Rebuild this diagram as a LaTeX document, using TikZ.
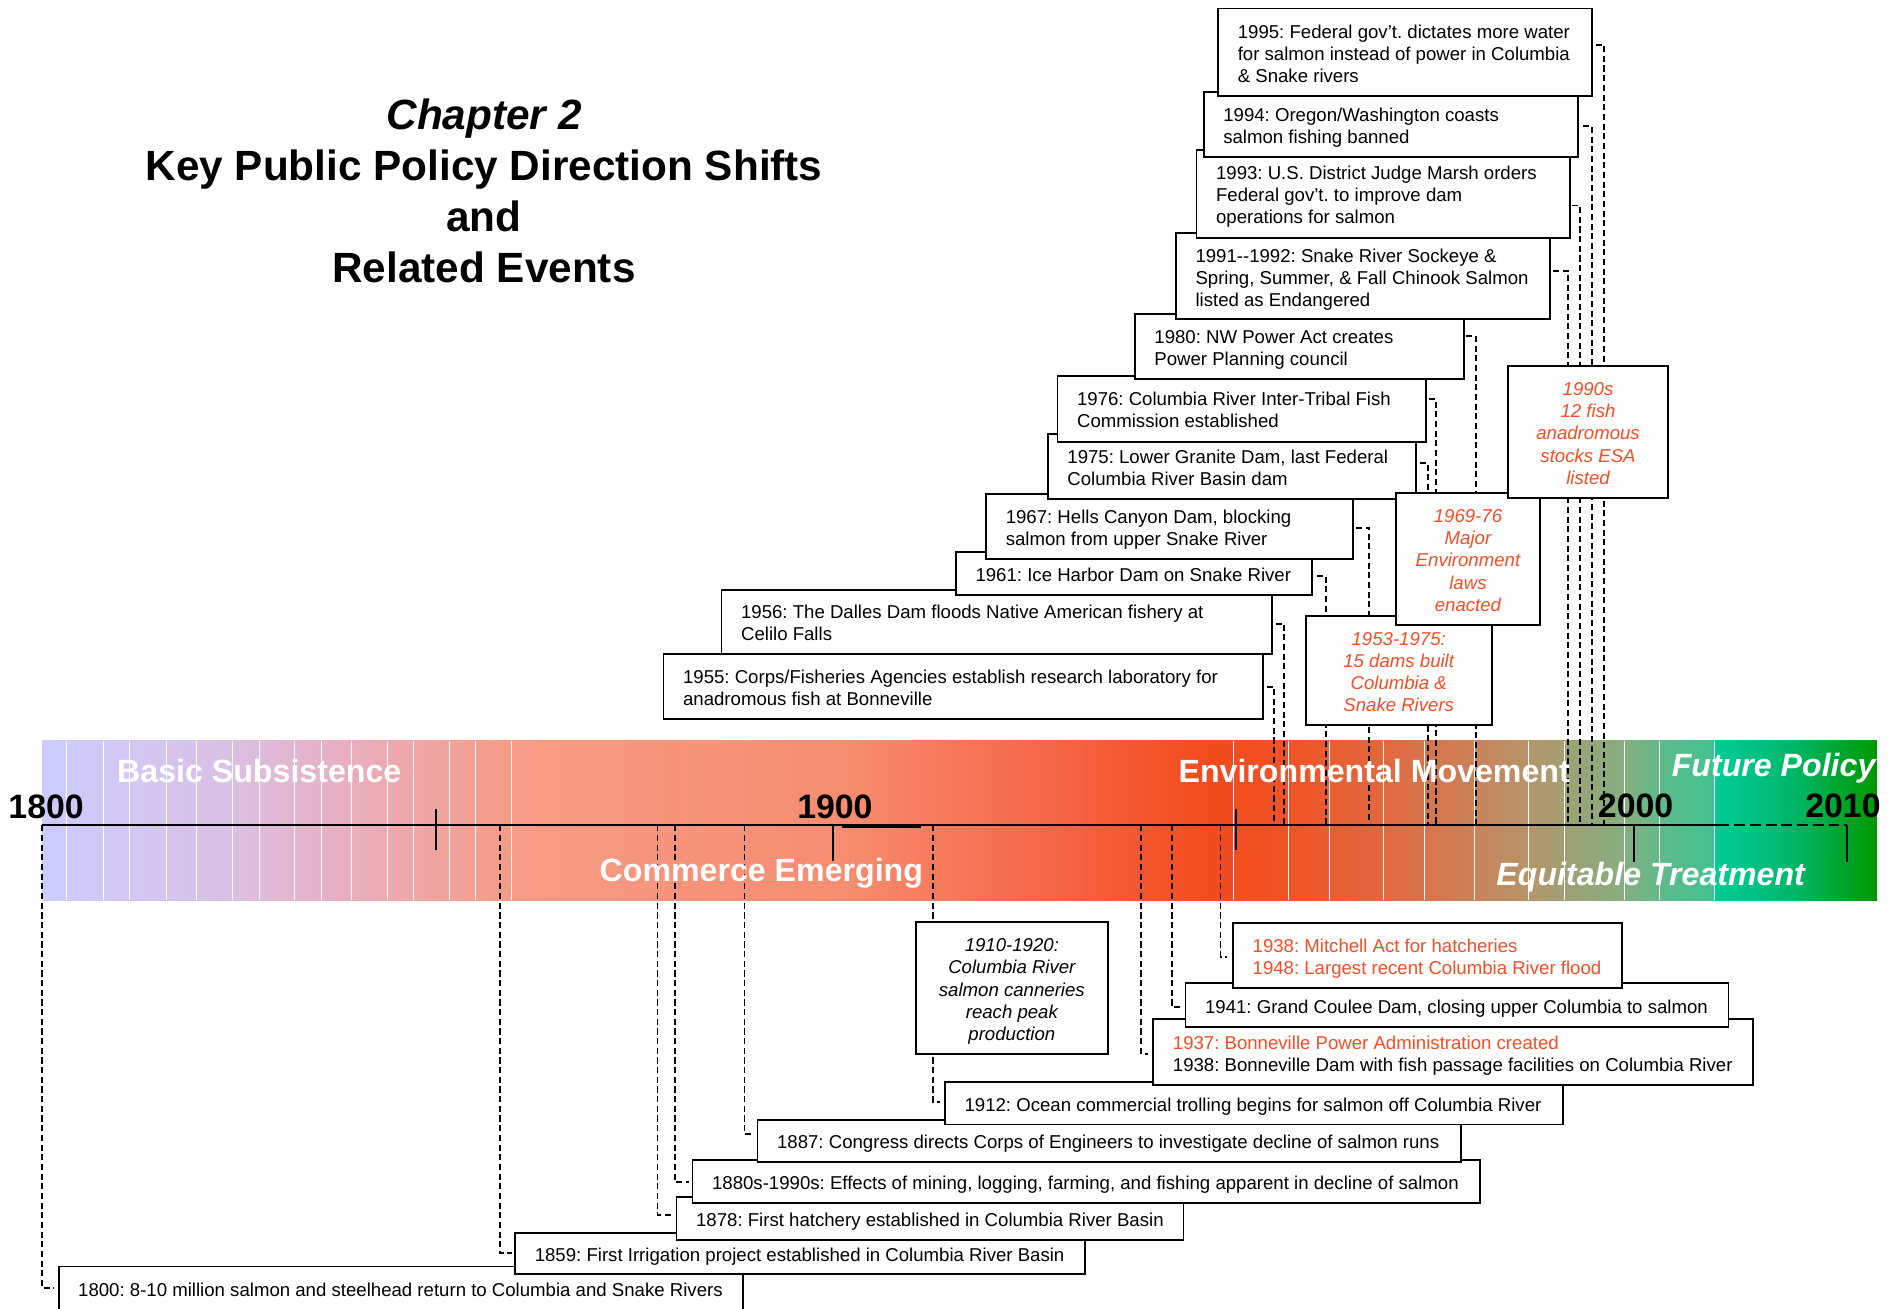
\documentclass[tikz,border=0pt]{standalone}
\usepackage{fontspec}
\setmainfont{Liberation Sans}
\usetikzlibrary{calc}
\pgfdeclarelayer{back}
\pgfdeclarelayer{mid}
\pgfsetlayers{back,mid,main}
\frenchspacing

\definecolor{evred}{RGB}{244,78,38}
% colour stops of the era band
\definecolor{s01}{RGB}{204,204,255}
\definecolor{s02}{RGB}{218,192,228}
\definecolor{s03}{RGB}{234,172,186}
\definecolor{s04}{RGB}{246,156,134}
\definecolor{s05}{RGB}{247,140,112}
\definecolor{s06}{RGB}{246,104,72}
\definecolor{s07}{RGB}{244,74,30}
\definecolor{s08}{RGB}{240,82,38}
\definecolor{s09}{RGB}{234,92,50}
\definecolor{s10}{RGB}{226,104,62}
\definecolor{s11}{RGB}{216,116,76}
\definecolor{s12}{RGB}{202,130,90}
\definecolor{s13}{RGB}{182,148,106}
\definecolor{s14}{RGB}{160,160,116}
\definecolor{s15}{RGB}{134,174,128}
\definecolor{s16}{RGB}{96,186,138}
\definecolor{s17}{RGB}{64,194,146}
\definecolor{s18}{RGB}{0,204,150}
\definecolor{s19}{RGB}{0,184,110}
\definecolor{s20}{RGB}{0,152,0}

\tikzset{
  frame/.style={draw=black, line width=1.5pt, fill=white, inner sep=0pt, outer sep=0pt},
  evtext/.style={inner sep=0pt, font=\fontsize{15.4}{18.3}\selectfont},
  notetext/.style={evtext, font=\fontsize{15.4}{18.3}\selectfont\itshape},
  rednotetext/.style={notetext, text=evred},
  conn/.style={line width=1.55pt, dash pattern=on 5pt off 3pt},
  axisline/.style={line width=1.6pt},
  tickmark/.style={line width=1.5pt},
  yearlbl/.style={inner sep=0pt, font=\fontsize{28}{30}\selectfont\bfseries},
  bandlbl/.style={inner sep=0pt, text=white, font=\fontsize{26.6}{30}\selectfont\bfseries},
  titlelbl/.style={inner sep=0pt, font=\fontsize{35}{42}\selectfont\bfseries},
  strip/.style={white, line width=0.8pt}
}

% event box: name, left, top, right, bottom, lines (left aligned)
\newcommand\evtbox[6]{%
  \pgfmathsetmacro\bxw{#4-#2}%
  \pgfmathsetmacro\bxh{#5-#3}%
  \pgfmathsetmacro\bxx{(#2+#4)/2}%
  \pgfmathsetmacro\bxy{(#3+#5)/2}%
  \node[frame, minimum width=\bxw pt, minimum height=\bxh pt] (#1) at (\bxx,\bxy) {};
  \node[evtext, anchor=west] (#1t) at ($(#1.west)+(16,3)$)
    {\begin{tabular}{@{}l@{}}#6\end{tabular}};}
% note box: style, name, left, top, right, bottom, lines (centred)
\newcommand\ntbox[7]{%
  \pgfmathsetmacro\bxw{#5-#3}%
  \pgfmathsetmacro\bxh{#6-#4}%
  \pgfmathsetmacro\bxx{(#3+#5)/2}%
  \pgfmathsetmacro\bxy{(#4+#6)/2}%
  \node[frame, minimum width=\bxw pt, minimum height=\bxh pt] (#2) at (\bxx,\bxy) {};
  \node[#1] (#2t) at ($(#2.center)+(0,3)$)
    {\begin{tabular}{@{}c@{}}#7\end{tabular}};}

\begin{document}
\begin{tikzpicture}[x=1pt,y=-1pt]
\useasboundingbox (0,0) rectangle (1568,1083);

% ---------- events after 1800 (below the axis), earliest on top ----------
\evtbox{b1800}{48.5}{1048}{614.8}{1085}{1800: 8-10 million salmon and steelhead return to Columbia and Snake Rivers}
\evtbox{b1859}{426.3}{1020}{898}{1054}{1859: First Irrigation project established in Columbia River Basin}
\evtbox{b1878}{559.8}{990.2}{979.3}{1026}{1878: First hatchery established in Columbia River Basin}
\evtbox{b1880}{573}{960}{1224.7}{995.7}{1880s-1990s: Effects of mining, logging, farming, and fishing apparent in decline of salmon}
\evtbox{b1887}{626.8}{926.8}{1209}{961.3}{1887: Congress directs Corps of Engineers to investigate decline of salmon runs}
\evtbox{b1912}{781.9}{895}{1293.4}{930.4}{1912: Ocean commercial trolling begins for salmon off Columbia River}
\evtbox{b1937}{954.3}{843.2}{1450.2}{897.8}{\textcolor{evred}{1937: Bonneville Power Administration created}\\1938: Bonneville Dam with fish passage facilities on Columbia River}
\evtbox{b1941}{980.9}{813.7}{1430.2}{849.5}{1941: Grand Coulee Dam, closing upper Columbia to salmon}
\evtbox{b1938}{1020.3}{764}{1341.9}{817.3}{\textcolor{evred}{1938: Mitchell Act for hatcheries}\\\textcolor{evred}{1948: Largest recent Columbia River flood}}
\ntbox{notetext}{n1910}{757.6}{762.7}{916.9}{872.4}{1910-1920:\\Columbia River\\salmon canneries\\reach peak\\production}

% ---------- events above the axis, latest on top ----------
\evtbox{b1955}{549}{541}{1045}{595}{1955: Corps/Fisheries Agencies establish research laboratory for\\anadromous fish at Bonneville}
\evtbox{b1956}{597}{488}{1052.4}{541}{1956: The Dalles Dam floods Native American fishery at\\Celilo Falls}
\evtbox{b1961}{791}{457}{1085.6}{492.3}{1961: Ice Harbor Dam on Snake River}
\evtbox{b1967}{816}{409}{1119.4}{462.6}{1967: Hells Canyon Dam, blocking\\salmon from upper Snake River}
\evtbox{b1975}{867}{359}{1171.7}{413}{1975: Lower Granite Dam, last Federal\\Columbia River Basin dam}
\evtbox{b1976}{875}{311}{1180}{365.5}{1976: Columbia River Inter-Tribal Fish\\Commission established}
\evtbox{b1980}{939}{260}{1211.5}{313.6}{1980: NW Power Act creates\\Power Planning council}
\evtbox{b1991}{973}{193}{1282.6}{264}{1991-{}-1992: Snake River Sockeye \&\\Spring, Summer, \& Fall Chinook Salmon\\listed as Endangered}
\evtbox{b1993}{990}{124}{1299}{196.7}{1993: U.S. District Judge Marsh orders\\Federal gov’t. to improve dam\\operations for salmon}
\evtbox{b1994}{996}{76}{1305.8}{129.6}{1994: Oregon/Washington coasts\\salmon fishing banned}
\evtbox{b1995}{1008}{7}{1317}{79.2}{1995: Federal gov’t. dictates more water\\for salmon instead of power in Columbia\\\& Snake rivers}

\ntbox{rednotetext}{n1953}{1080.3}{509.4}{1234.4}{600}{1953-1975:\\15 dams built\\Columbia \&\\Snake Rivers}
\ntbox{rednotetext}{n1969}{1155}{407.7}{1274.3}{517.2}{1969-76\\Major\\Environment\\laws\\enacted}
\ntbox{rednotetext}{n1990}{1248}{302.9}{1380}{411.8}{1990s\\12 fish\\anadromous\\stocks ESA\\listed}

% ---------- era band ----------
\begin{pgfonlayer}{back}
  \shade[left color=s01,right color=s02] (35,613) rectangle (190.5,745);
  \shade[left color=s02,right color=s03] (190,613) rectangle (300.5,745);
  \shade[left color=s03,right color=s04] (300,613) rectangle (420.5,745);
  \shade[left color=s04,right color=s05] (420,613) rectangle (700.5,745);
  \shade[left color=s05,right color=s06] (700,613) rectangle (860.5,745);
  \shade[left color=s06,right color=s07] (860,613) rectangle (1000.5,745);
  \shade[left color=s07,right color=s08] (1000,613) rectangle (1066.5,745);
  \shade[left color=s08,right color=s09] (1066,613) rectangle (1100.5,745);
  \shade[left color=s09,right color=s10] (1100,613) rectangle (1144.5,745);
  \shade[left color=s10,right color=s11] (1144,613) rectangle (1179.5,745);
  \shade[left color=s11,right color=s12] (1179,613) rectangle (1220.5,745);
  \shade[left color=s12,right color=s13] (1220,613) rectangle (1265.5,745);
  \shade[left color=s13,right color=s14] (1265,613) rectangle (1294.5,745);
  \shade[left color=s14,right color=s15] (1294,613) rectangle (1344.5,745);
  \shade[left color=s15,right color=s16] (1344,613) rectangle (1373.5,745);
  \shade[left color=s16,right color=s17] (1373,613) rectangle (1419.5,745);
  \shade[left color=s18,right color=s19] (1419,613) rectangle (1480.5,745);
  \shade[left color=s19,right color=s20] (1480,613) rectangle (1553,745);
  \foreach \sx in {55.4,85.7,107,137.4,162.5,192,214.3,243.8,266,290.7,320.6,
      342.4,372,393.4,423.3,1021,1066,1100,1144.5,1179,1220.4,1265,1294.5,
      1343.8,1373.4,1419}
    \draw[strip] (\sx,613) -- (\sx,745);
\end{pgfonlayer}

% ---------- axis, ticks and connectors ----------
\coordinate (axL) at (35,683);
\coordinate (axM) at (1422,683);
\coordinate (axR) at (1528,683);
\foreach \n/\vx in {a1955/1054,a1956/1062.6,a1961/1097.5,a1967/1133,a1975/1181.6,
    a1976/1188,a1980/1221,a1991/1297.5,a1993/1307.6,a1994/1317.3,a1995/1327.5,
    a1800/35,a1859/413.7,a1878/544,a1880/558.5,a1887/616,a1912/771.9,
    a1937/944,a1941/969.5,a1938/1009.9}
  \coordinate (\n) at (\vx,683);

\begin{pgfonlayer}{mid}
  \draw[axisline] (axL) -- (axM);
  \draw[axisline, dash pattern=on 9pt off 4pt] (axM) -- (axR);
  \draw[line width=1.8pt] (697,684) -- (762,684);
  \draw[tickmark] (361,669.5) -- (361,703);
  \draw[tickmark] (689,683) -- (689,712.5);
  \draw[tickmark] (1023,669) -- (1023,703);
  \draw[tickmark] (1351.7,683) -- (1351.7,713);
  \draw[tickmark] (1528,683) -- (1528,713);

  % upper events: stub from the box, then down to the axis
  \draw[conn] ($(b1955.north east)+(3,27.2)$) -| (a1955);
  \draw[conn] ($(b1956.north east)+(3.1,28)$) -| (a1956);
  \draw[conn] ($(b1961.north east)+(4.4,19.6)$) -| (a1961);
  \draw[conn] ($(b1967.north east)+(2.6,27.6)$) -| (a1967);
  \draw[conn] ($(b1975.north east)+(3.3,24)$) -| (a1975);
  \draw[conn] ($(b1976.north east)+(2,19.4)$) -| (a1976);
  \draw[conn] ($(b1980.north east)+(1.5,18)$) -| (a1980);
  \draw[conn] ($(b1991.north east)+(2.4,31)$) -| (a1991);
  \draw[conn] ($(b1993.north east)+(2,46)$) -| (a1993);
  \draw[conn] ($(b1994.north east)+(4.2,28.3)$) -| (a1994);
  \draw[conn] ($(b1995.north east)+(3.5,30.2)$) -| (a1995);

  % lower events: down from the axis, then a stub into the box
  \draw[conn] (a1800) |- ($(b1800.north west)+(-3.5,18)$);
  \draw[conn] (a1859) |- ($(b1859.north west)+(-2.3,17)$);
  \draw[conn] (a1878) |- ($(b1878.north west)+(-2.8,14.8)$);
  \draw[conn] (a1880) |- ($(b1880.north west)+(-3,17.8)$);
  \draw[conn] (a1887) |- ($(b1887.north west)+(-2.8,11.7)$);
  \draw[conn] (a1912) |- ($(b1912.north west)+(-3.9,16.6)$);
  \draw[conn] (a1937) |- ($(b1937.north west)+(-4.3,28.8)$);
  \draw[conn] (a1941) |- ($(b1941.north west)+(-4.9,19.3)$);
  \draw[conn] (a1938) |- ($(b1938.north west)+(-5.3,27.6)$);
\end{pgfonlayer}

% ---------- era names and years ----------
\node[bandlbl, anchor=base west] (eBasic) at (96.8,647.4) {Basic Subsistence};
\node[bandlbl, anchor=base west] (eCommerce) at (496,729.6) {Commerce Emerging};
\node[bandlbl, anchor=base west] (eEnv) at (975,647.4) {Environmental Movement};
\node[bandlbl, anchor=base east, font=\fontsize{26.6}{30}\selectfont\bfseries\itshape] (eFuture) at (1552,642.7) {Future Policy};
\node[bandlbl, anchor=base west, font=\fontsize{26.6}{30}\selectfont\bfseries\itshape] (eEquit) at (1238,732.3) {Equitable Treatment};

\node[yearlbl, anchor=base west] (y1800) at (6.8,677) {1800};
\node[yearlbl, anchor=base west] (y1900) at (659.5,677) {1900};
\node[yearlbl, anchor=base west] (y2000) at (1322,676.3) {2000};
\node[yearlbl, anchor=base west] (y2010) at (1493.6,676.3) {2010};

% ---------- title ----------
\node[titlelbl, anchor=base] (tChap) at (400.5,107) {\itshape Chapter 2};
\node[titlelbl, anchor=base] (tKey) at (400.5,149) {Key Public Policy Direction Shifts};
\node[titlelbl, anchor=base] (tAnd) at (400.5,191.5) {and};
\node[titlelbl, anchor=base] (tRel) at (400.5,234) {Related Events};
\end{tikzpicture}
\end{document}
